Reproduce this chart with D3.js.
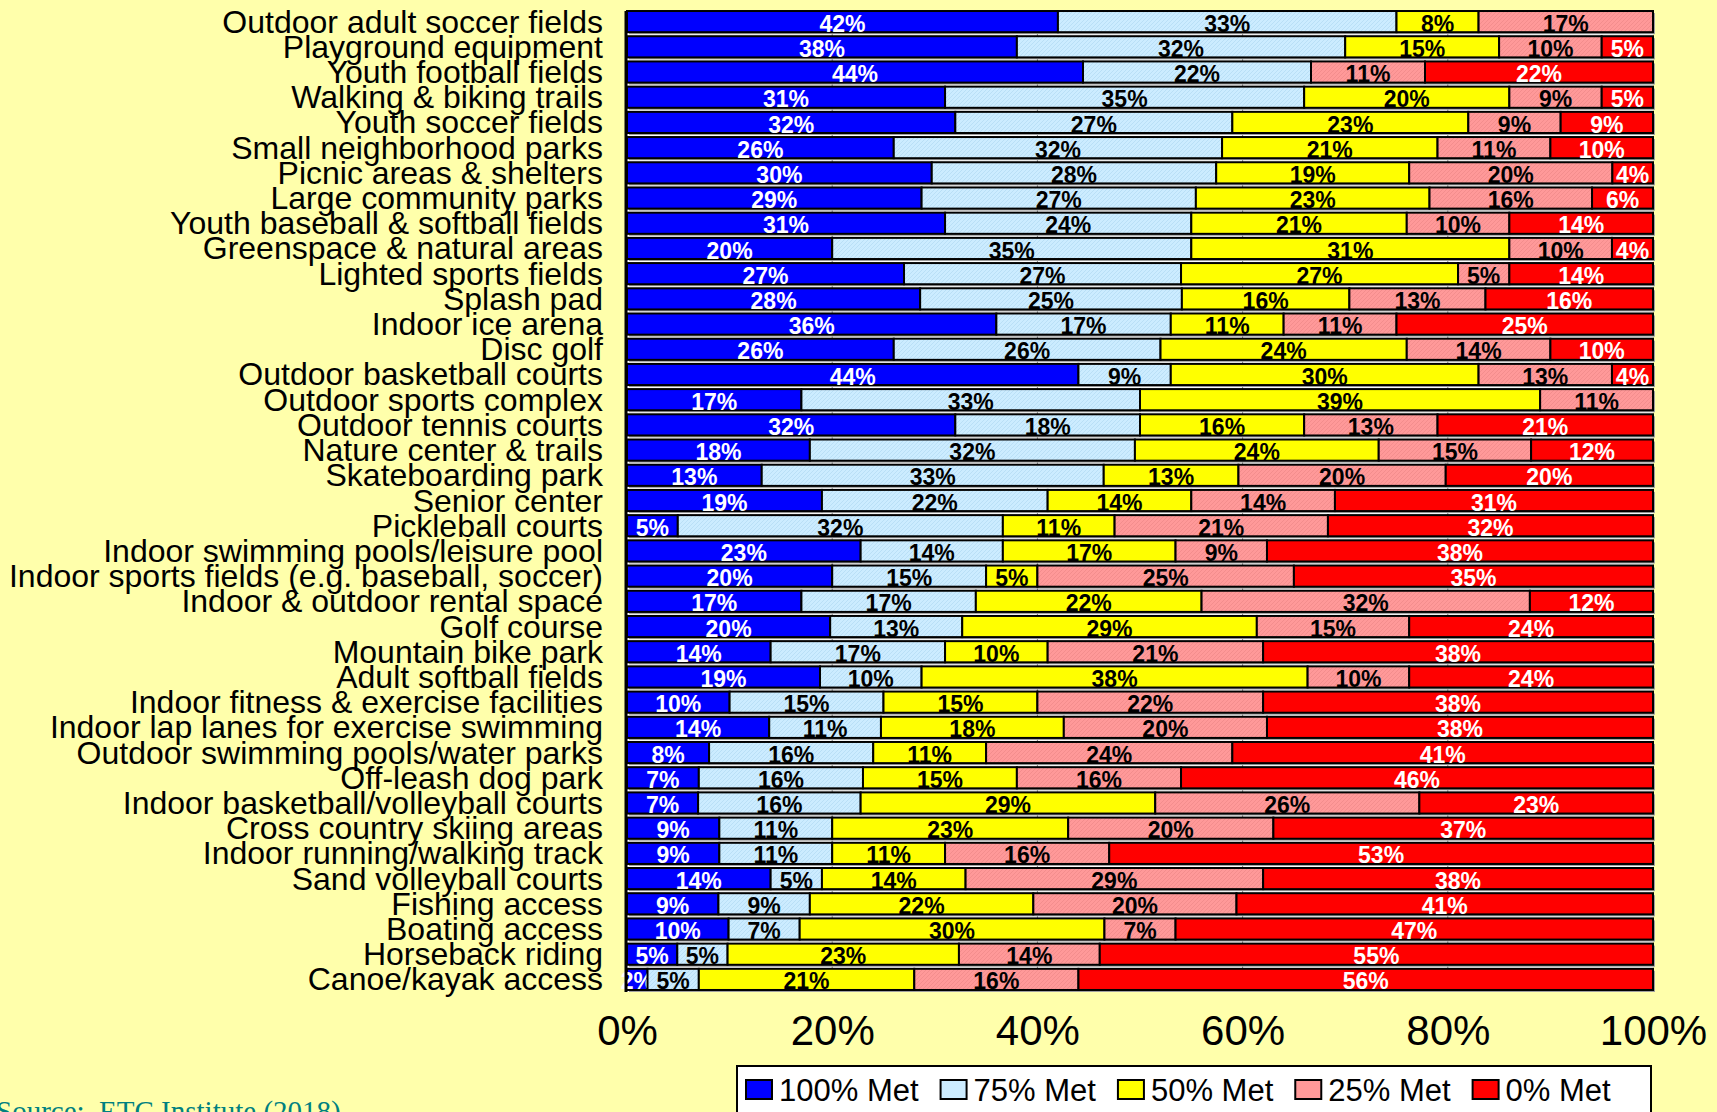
<!DOCTYPE html>
<html>
<head>
<meta charset="utf-8">
<script src="https://cdn.jsdelivr.net/npm/d3@7"></script>
<style>
  body { margin: 0; background: #FFFFAB; overflow: hidden; }
  svg { display: block; }
  .rowLabel { font-family: "Liberation Sans", Arial, sans-serif; font-size: 32px; fill: #000; }
  .valueLabel { font-family: "Liberation Sans", Arial, sans-serif; font-size: 23px; font-weight: bold; }
  .axis text { font-family: "Liberation Sans", Arial, sans-serif; font-size: 42px; fill: #000; }
  .legendText { font-family: "Liberation Sans", Arial, sans-serif; font-size: 31px; fill: #000; }
  .source { font-family: "Liberation Serif", "Times New Roman", serif; font-size: 29px; fill: #008080; white-space: pre; }
</style>
</head>
<body>
<script>
//Global variables
const width = 1717;
const height = 1112;
const plotLeft = 627;
const plotRight = 1653;
const plotTop = 9;
const plotBottom = 992;

//Data (percent of households whose needs are met)
const categories = [
  "Outdoor adult soccer fields", "Playground equipment", "Youth football fields",
  "Walking & biking trails", "Youth soccer fields", "Small neighborhood parks",
  "Picnic areas & shelters", "Large community parks", "Youth baseball & softball fields",
  "Greenspace & natural areas", "Lighted sports fields", "Splash pad",
  "Indoor ice arena", "Disc golf", "Outdoor basketball courts",
  "Outdoor sports complex", "Outdoor tennis courts", "Nature center & trails",
  "Skateboarding park", "Senior center", "Pickleball courts",
  "Indoor swimming pools/leisure pool", "Indoor sports fields (e.g. baseball, soccer)",
  "Indoor & outdoor rental space", "Golf course", "Mountain bike park",
  "Adult softball fields", "Indoor fitness & exercise facilities",
  "Indoor lap lanes for exercise swimming", "Outdoor swimming pools/water parks",
  "Off-leash dog park", "Indoor basketball/volleyball courts", "Cross country skiing areas",
  "Indoor running/walking track", "Sand volleyball courts", "Fishing access",
  "Boating access", "Horseback riding", "Canoe/kayak access"
];
const met100 = [42, 38, 44, 31, 32, 26, 30, 29, 31, 20, 27, 28, 36, 26, 44, 17, 32, 18, 13, 19, 5, 23, 20, 17, 20, 14, 19, 10, 14, 8, 7, 7, 9, 9, 14, 9, 10, 5, 2];
const met75 = [33, 32, 22, 35, 27, 32, 28, 27, 24, 35, 27, 25, 17, 26, 9, 33, 18, 32, 33, 22, 32, 14, 15, 17, 13, 17, 10, 15, 11, 16, 16, 16, 11, 11, 5, 9, 7, 5, 5];
const met50 = [8, 15, 0, 20, 23, 21, 19, 23, 21, 31, 27, 16, 11, 24, 30, 39, 16, 24, 13, 14, 11, 17, 5, 22, 29, 10, 38, 15, 18, 11, 15, 29, 23, 11, 14, 22, 30, 23, 21];
const met25 = [17, 10, 11, 9, 9, 11, 20, 16, 10, 10, 5, 13, 11, 14, 13, 11, 13, 15, 20, 14, 21, 9, 25, 32, 15, 21, 10, 22, 20, 24, 16, 26, 20, 16, 29, 20, 7, 14, 16];
const met0 = [0, 5, 22, 5, 9, 10, 4, 6, 14, 4, 14, 16, 25, 10, 4, 0, 21, 12, 20, 31, 32, 38, 35, 12, 24, 38, 24, 38, 38, 41, 46, 23, 37, 53, 38, 41, 47, 55, 56];
const xTicks = [0, 0.2, 0.4, 0.6, 0.8, 1];

const seriesKeys = ["met100", "met75", "met50", "met25", "met0"];
const seriesNames = ["100% Met", "75% Met", "50% Met", "25% Met", "0% Met"];
const seriesFill = {met100: "#0000FF", met75: "url(#hatchBlue)", met50: "#FFFF00", met25: "url(#hatchPink)", met0: "#FF0000"};
const seriesSwatch = {met100: "#0000FF", met75: "#CCECFF", met50: "#FFFF00", met25: "#FF9999", met0: "#FF0000"};
const seriesText = {met100: "#FFFFFF", met75: "#000000", met50: "#000000", met25: "#000000", met0: "#FFFFFF"};

//table for the stack layout
const data = categories.map((c, i) => ({
  category: c,
  met100: met100[i], met75: met75[i], met50: met50[i], met25: met25[i], met0: met0[i]
}));

const stacked = d3.stack()
  .keys(seriesKeys)
  .offset(d3.stackOffsetExpand)(data);

//Scales
const xScale = d3.scaleLinear()
  .domain([0, 1])
  .range([plotLeft, plotRight]);

const yScale = d3.scaleBand()
  .domain(categories)
  .range([plotTop, plotBottom])
  .paddingInner(0.16)
  .paddingOuter(0.08);

//SVG element
const svg = d3.select("body")
  .append("svg")
  .attr("width", width)
  .attr("height", height);

//hatch patterns for the light blue and pink segments
const defs = svg.append("defs");
function hatch(id, base, line) {
  const p = defs.append("pattern")
    .attr("id", id)
    .attr("patternUnits", "userSpaceOnUse")
    .attr("width", 4)
    .attr("height", 4);
  p.append("rect").attr("width", 4).attr("height", 4).attr("fill", base);
  p.append("path")
    .attr("d", "M0,4 L4,0 M-1,1 L1,-1 M3,5 L5,3")
    .attr("stroke", line)
    .attr("stroke-width", 0.8);
}
hatch("hatchBlue", "#CCECFF", "#B4DCF4");
hatch("hatchPink", "#FF9999", "#F08A8A");

//plot background and gridlines
svg.append("rect")
  .attr("x", plotLeft)
  .attr("y", plotTop + 2)
  .attr("width", plotRight - plotLeft)
  .attr("height", plotBottom - plotTop - 2)
  .attr("fill", "#FFFFFF");

svg.selectAll(".grid")
  .data(xTicks.slice(1, -1))
  .join("line")
  .attr("class", "grid")
  .attr("x1", d => xScale(d))
  .attr("x2", d => xScale(d))
  .attr("y1", plotTop + 2)
  .attr("y2", plotBottom)
  .attr("stroke", "#808080")
  .attr("stroke-width", 1);

//bar shadows
svg.selectAll(".shadow")
  .data(categories)
  .join("rect")
  .attr("class", "shadow")
  .attr("x", xScale(0) + 2)
  .attr("y", d => yScale(d) + 2)
  .attr("width", xScale(1) - xScale(0))
  .attr("height", yScale.bandwidth())
  .attr("fill", "#A0A0A0");

//Stacked bars
const layers = svg.selectAll(".layer")
  .data(stacked)
  .join("g")
  .attr("class", "layer");

layers.selectAll("rect")
  .data(s => s.map(d => ({key: s.key, d: d})))
  .join("rect")
  .attr("x", v => xScale(v.d[0]))
  .attr("y", v => yScale(v.d.data.category))
  .attr("width", v => xScale(v.d[1]) - xScale(v.d[0]))
  .attr("height", yScale.bandwidth())
  .attr("fill", v => seriesFill[v.key])
  .attr("stroke", "#000")
  .attr("stroke-width", v => v.d[1] - v.d[0] > 0 ? 2 : 0);

//value labels
layers.selectAll("text")
  .data(s => s.map(d => ({key: s.key, d: d})).filter(v => v.d.data[v.key] > 0))
  .join("text")
  .attr("class", "valueLabel")
  .attr("x", v => (xScale(v.d[0]) + xScale(v.d[1])) / 2)
  .attr("y", v => yScale(v.d.data.category) + yScale.bandwidth() - 0.5)
  .attr("text-anchor", "middle")
  .attr("fill", v => seriesText[v.key])
  .text(v => v.d.data[v.key] + "%");

//left axis line
svg.append("line")
  .attr("x1", plotLeft - 1).attr("x2", plotLeft - 1)
  .attr("y1", plotTop + 2).attr("y2", plotBottom)
  .attr("stroke", "#000").attr("stroke-width", 3);

//Category labels
svg.selectAll(".rowLabel")
  .data(categories)
  .join("text")
  .attr("class", "rowLabel")
  .attr("x", 603)
  .attr("y", d => yScale(d) + yScale.bandwidth() / 2 + 11)
  .attr("text-anchor", "end")
  .text(d => d);

//Bottom axis
const bottomAxis = d3.axisBottom(xScale)
  .tickValues(xTicks)
  .tickFormat(d3.format(".0%"))
  .tickSize(0);

svg.append("g")
  .attr("class", "axis")
  .attr("transform", "translate(0,1045)")
  .call(bottomAxis)
  .call(g => g.select(".domain").remove())
  .call(g => g.selectAll("text").attr("y", 0).attr("dy", 0));

//Legend
const legend = svg.append("g").attr("class", "legend");
legend.append("rect")
  .attr("x", 737)
  .attr("y", 1066)
  .attr("width", 914)
  .attr("height", 60)
  .attr("fill", "#FFFFFF")
  .attr("stroke", "#000")
  .attr("stroke-width", 2);

let lx = 746;
seriesKeys.forEach((k, i) => {
  legend.append("rect")
    .attr("x", lx)
    .attr("y", 1080)
    .attr("width", 26)
    .attr("height", 19)
    .attr("fill", seriesSwatch[k])
    .attr("stroke", "#000")
    .attr("stroke-width", 2);
  const t = legend.append("text")
    .attr("class", "legendText")
    .attr("x", lx + 33)
    .attr("y", 1101)
    .text(seriesNames[i]);
  lx += 33 + t.node().getComputedTextLength() + 22;
});

//Source
svg.append("text")
  .attr("class", "source")
  .attr("x", -4)
  .attr("y", 1121)
  .text("Source:  ETC Institute (2018)");
</script>
</body>
</html>
